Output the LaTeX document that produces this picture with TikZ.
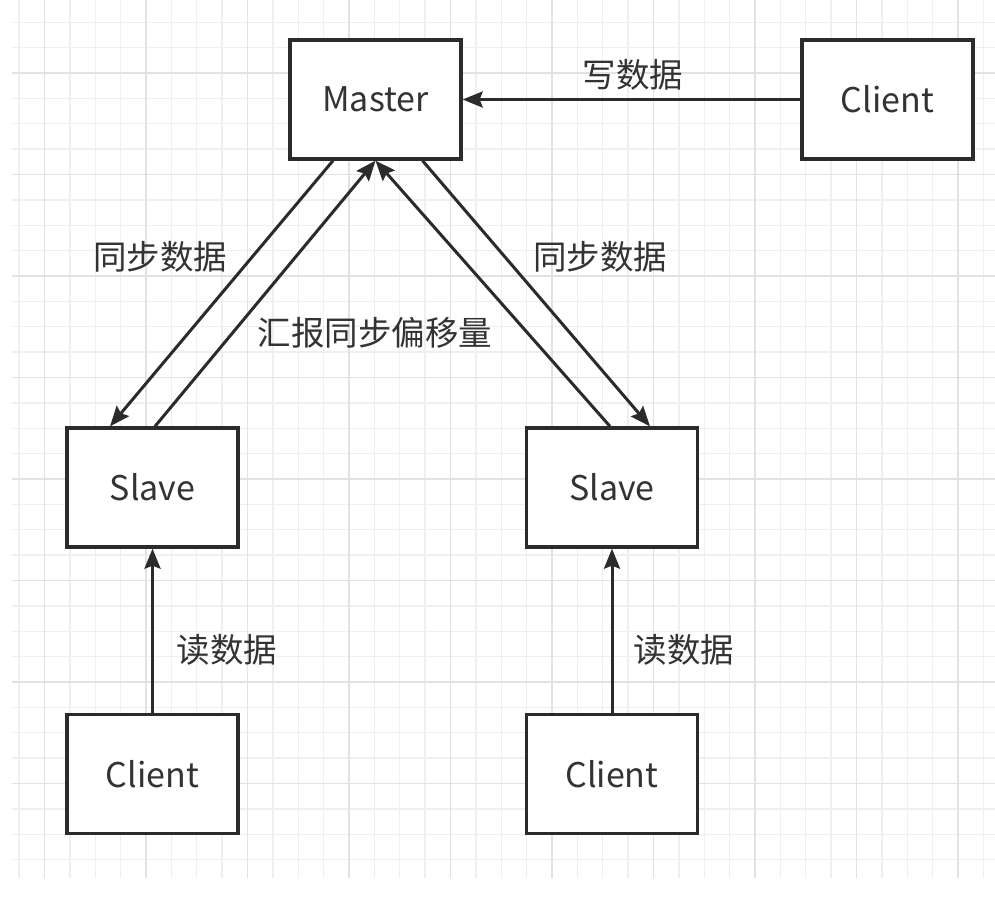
\documentclass[tikz,border=0pt]{standalone}
\usepackage{fontspec}
\setmainfont{Noto Sans CJK SC}
\usetikzlibrary{arrows.meta}
\definecolor{ink}{HTML}{2B2B2B}
\definecolor{txt}{HTML}{333333}
\definecolor{gminor}{HTML}{EFEFEF}
\definecolor{gmajor}{HTML}{E2E2E2}
\tikzset{
  box/.style={draw=ink, line width=3.3pt, fill=white, minimum width=171pt, minimum height=119pt, inner sep=0pt, text=txt, font=\fontsize{34}{40}\selectfont},
  lbl/.style={text=txt, font=\fontsize{33.5}{40}\selectfont, inner sep=0pt},
  conn/.style={draw=ink, line width=3pt, -{Stealth[length=20pt,width=16pt,inset=3pt]}},
}
\begin{document}
\begin{tikzpicture}[x=1pt,y=-1pt]
\useasboundingbox (0,0) rectangle (995,905);
\fill[white] (0,0) rectangle (995,905);
% grid
\foreach \j in {-1,...,37}{
  \draw[gminor, line width=1.3pt] ({44.5+25.375*\j},0) -- ({44.5+25.375*\j},878);
}
\foreach \j in {-2,...,31}{
  \draw[gminor, line width=1.3pt] (12,{73+25.375*\j}) -- (995,{73+25.375*\j});
}
\foreach \j in {0,...,9}{
  \draw[gmajor, line width=1.6pt] ({44.5+101.5*\j},0) -- ({44.5+101.5*\j},878);
}
\foreach \j in {0,...,7}{
  \draw[gmajor, line width=1.6pt] (12,{73+101.5*\j}) -- (995,{73+101.5*\j});
}
% boxes
\node[box] (master) at (375.5,99.5) {Master};
\node[box] (clientT) at (887.5,99.5) {Client};
\node[box] (slaveL) at (152.5,487.5) {Slave};
\node[box] (slaveR) at (612,487.5) {Slave};
\node[box] (clientL) at (152.5,774) {Client};
\node[box] (clientR) at (612,774) {Client};
% connectors
\draw[conn] (clientT.west) -- (master.east);
\draw[conn] ([xshift=-42.5pt]master.south) -- ([xshift=-42.5pt]slaveL.north);
\draw[conn] ([xshift=2.5pt]slaveL.north) -- (master.south);
\draw[conn] ([xshift=47pt]master.south) -- ([xshift=38pt]slaveR.north);
\draw[conn] ([xshift=-2pt]slaveR.north) -- (master.south);
\draw[conn] (clientL.north) -- (slaveL.south);
\draw[conn] (clientR.north) -- (slaveR.south);
% labels
\node[lbl] (lw) at (633,75) {写数据};
\node[lbl] (ls1) at (160,257) {同步数据};
\node[lbl] (lr) at (375,333) {汇报同步偏移量};
\node[lbl] (ls2) at (600,257) {同步数据};
\node[lbl] (ld1) at (227,650) {读数据};
\node[lbl] (ld2) at (684,650) {读数据};
\end{tikzpicture}
\end{document}
